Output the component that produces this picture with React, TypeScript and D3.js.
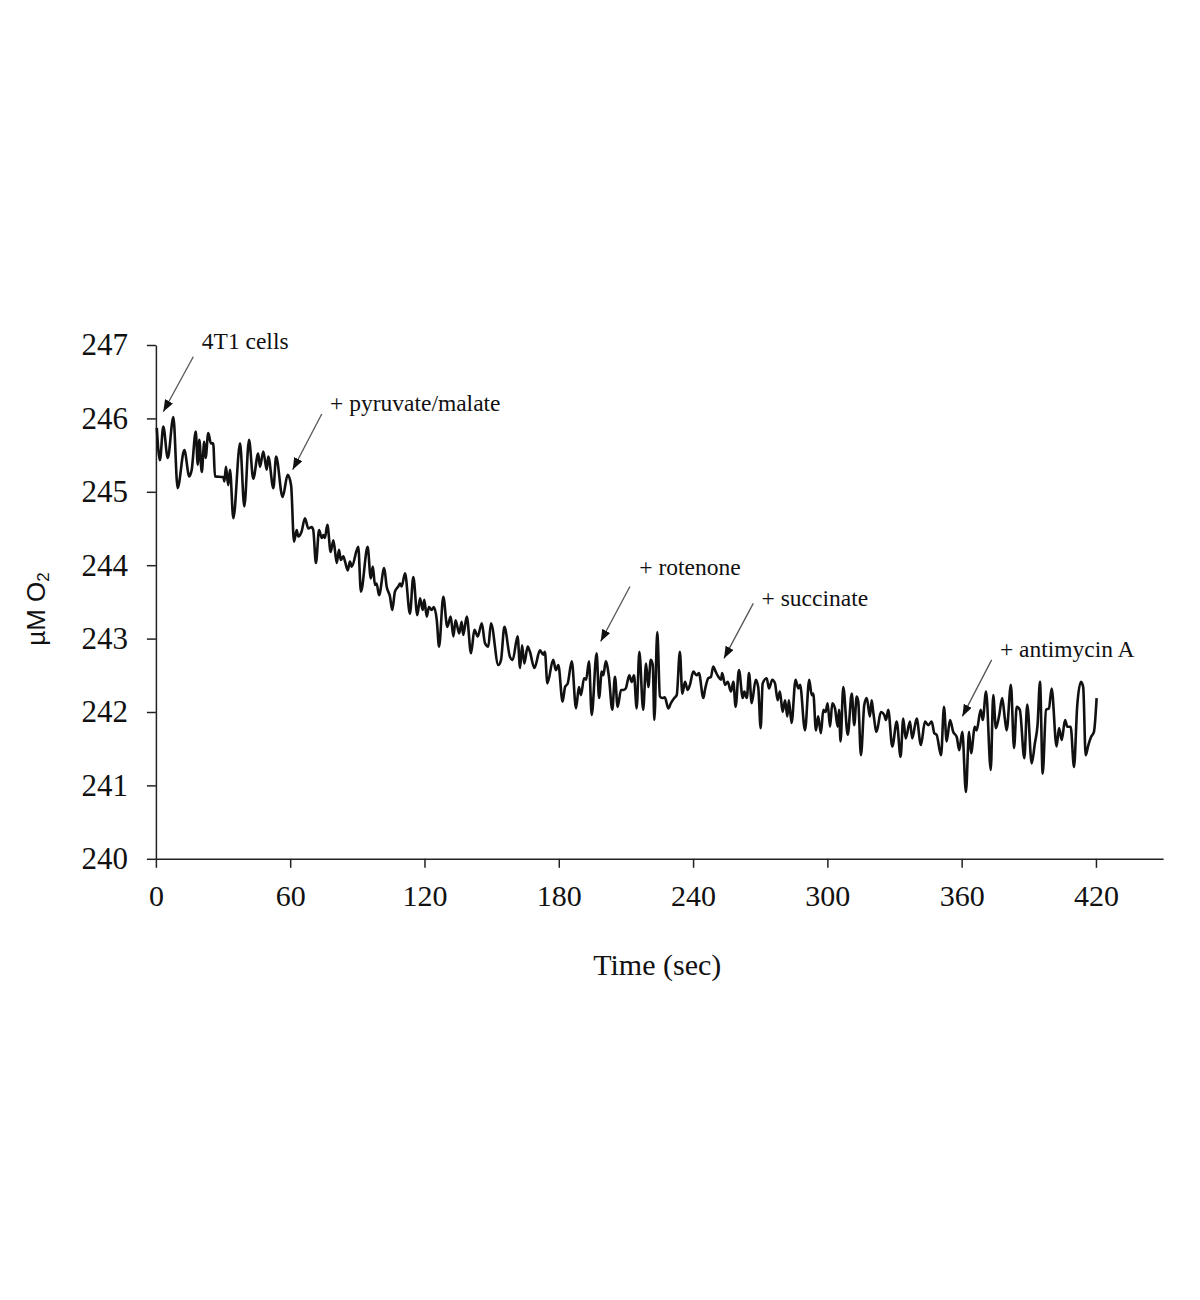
import { useEffect, useRef } from 'react';
import * as d3 from 'd3';

// Oxygen trace (seconds, µM O2)
const timeSec = [
  0.4, 1.8, 3.3, 5.3, 7.8, 9.7, 12.7, 14.9, 16, 17.8, 18.7, 19.4, 20.5, 21.6, 22.2, 23.4, 24.6, 25.6, 26.4, 30.1,
  30.6, 31.3, 32.3, 33.1, 34.6, 37.6, 39.5, 41.6, 43.5, 45.7, 46.5, 48, 49.5, 50.2, 52.5, 53.7, 56.6, 58.9, 60.4,
  61.7, 62.9, 63.6, 65.1, 66.6, 68.1, 69.6, 70.3, 71.5, 72.9, 74.1, 74.8, 75.5, 76.6, 78.1, 79.3, 80.8, 81.8, 82.6, 83.7,
  84.5, 85.7, 86.7, 87.5, 90.4, 91.6, 94.6, 96, 96.9, 97.9, 98.6, 99.7, 102, 103.1, 104.6, 105.6, 106.8, 108.3, 109.1, 109.8,
  111.3, 113.5, 115, 116.8, 118, 119.2, 119.9, 121, 122, 123.2, 124.2, 125.5,
  126.5, 128.4, 130.2, 131.7, 132.9, 133.9, 135.5, 136.6, 137.3, 138.9, 140.8, 142.3, 143.8, 145.6, 147, 148.5, 149.7, 153, 154.2, 155.7,
  158.2, 159.4, 161.6, 162.7, 163.6, 164.6, 166.1, 167.1, 169.1, 171.6, 173.1, 173.8, 174.9, 177.5, 178.7, 179.8, 181.7, 182.8, 184, 185.8,
  187.7, 189, 189.9, 191.3, 192.2,
  193.5, 194.7, 196.9, 198, 199.2, 199.9, 201, 202.4, 203.9, 205.1, 206.3, 207.8, 208.8, 209.9, 211.5, 212.6, 213.6, 214.8, 216, 217.7,
  219, 220, 221.1, 222, 222.7, 224, 225.2, 226.2, 227.4, 228.9, 230.1, 231.6, 232.7, 234.1, 235.2, 236.4, 237.6, 238.6, 240.1, 241.6,
  242.6, 244.6, 245.3, 246.8, 248, 249, 250.1, 251.3, 252.5, 253, 254.3, 255.5, 256.9, 258, 259, 260.5, 262.2, 262.9, 264, 265, 266.2,
  268, 269.1, 270.2, 271.1, 272.9, 273.9, 275.4, 276.6, 277.8, 278.8, 280, 281.1, 282.1, 282.8, 284, 285.8, 287, 287.8, 290, 291.9,
  293, 293.7, 294.9, 295.9, 297.1, 298.2, 299.2, 300.1, 301.2, 302.2, 303.4, 304.6, 305.2, 305.9, 307.1, 309.1, 310.9, 312, 313.1, 313.8,
  315, 316.5, 317.6, 319, 319.8, 320.5, 322, 323.9, 325.4, 326.2, 327.2, 329, 331, 332.7, 333.9, 335,
  336.9, 337.9, 339.9, 341.8, 343.6, 345.1, 346.6, 347.8, 348.8, 350.8, 352.1, 353.3, 354.8, 356.2, 357.8, 358.9, 360.3, 361.9, 363.3, 364.2,
  365.9, 366.7, 368.5, 369.4, 370.9, 373, 374.1, 375.3, 376.8, 378.1, 379.3, 380.1, 382, 383.4, 384.6, 386, 388, 389.3, 391.3, 392.7,
  393.9, 395, 396.2, 397.7, 399, 400.2, 402.4, 403.5, 404.7, 406.2, 407.2, 408.7, 410.2, 411.6, 413.3, 414.3, 415.4, 416.6, 417.8, 419.1,
  420.3,
];

const o2uM = [
  245.87, 245.43, 245.89, 245.46, 246.02, 245.05, 245.57, 245.21, 245.3, 245.82, 245.37, 245.71, 245.27, 245.68, 245.46, 245.8, 245.66, 245.66, 245.21, 245.2,
  245.14, 245.34, 245.09, 245.3, 244.64, 245.66, 244.8, 245.71, 245.18, 245.52, 245.34, 245.55, 245.3, 245.48, 245.05, 245.48, 244.93, 245.23, 245.09,
  244.32, 244.48, 244.39, 244.46, 244.64, 244.5, 244.52, 244.48, 244.03, 244.48, 244.37, 244.41, 244.37, 244.55, 244.18, 244.34, 244.03, 244.21, 244.07, 244.12,
  244.05, 243.93, 244.05, 243.98, 244.25, 243.64, 244.25, 243.82, 243.98, 243.73, 243.75, 243.59, 243.96, 243.71, 243.57, 243.39, 243.64, 243.71, 243.75, 243.71,
  243.89, 243.34, 243.84, 243.32, 243.55, 243.39, 243.53, 243.3, 243.43, 243.39, 243.43, 243.25,
  242.89, 243.57, 243.16, 243.3, 243.03, 243.25, 243.07, 243.23, 243.05, 243.3, 242.8, 243.12, 243.03, 243.21, 242.94, 242.89, 243.21, 242.64, 242.71, 243.16,
  242.75, 242.71, 243.03, 242.6, 242.91, 242.66, 242.89, 242.82, 242.6, 242.84, 242.78, 242.82, 242.39, 242.71, 242.57, 242.64, 242.14, 242.34, 242.39, 242.69,
  242.05, 242.34, 242.23, 242.46, 242.44,
  242.69, 241.96, 242.8, 242.19, 242.55, 242.5, 242.69, 242.48, 242.03, 242.48, 242.07, 242.3, 242.3, 242.32, 242.5, 242.41, 242.5, 242.05, 242.82, 242.03,
  242.66, 242.34, 242.71, 242.64, 241.89, 243.09, 242.21, 242.19, 242.2, 242.05, 242.12, 242.19, 242.23, 242.82, 242.25, 242.41, 242.3, 242.37, 242.55, 242.5,
  242.53, 242.19, 242.3, 242.46, 242.48, 242.62, 242.55, 242.48, 242.44, 242.53, 242.37, 242.41, 242.28, 242.41, 242.07, 242.57, 242.19, 242.28, 242.19, 242.53, 242.12,
  242.44, 242.34, 241.78, 242.39, 242.46, 242.32, 242.44, 242.39, 242.16, 242.28, 242.0, 242.16, 241.94, 242.16, 241.85, 242.44, 242.32, 242.37, 241.75, 242.44,
  242.23, 242.25, 241.75, 241.94, 241.71, 242.03, 242.0, 242.12, 241.8, 242.12, 242.05, 241.8, 242.03, 241.6, 242.34, 241.69, 242.25, 241.82, 242.21, 242.14,
  241.41, 242.1, 242.19, 241.94, 242.16, 242.0, 241.73, 242.0, 241.96, 241.89, 242.03, 241.53, 241.87, 241.39, 241.91, 241.64,
  241.87, 241.64, 241.91, 241.55, 241.87, 241.82, 241.87, 241.71, 241.69, 241.41, 242.07, 241.6, 241.89, 241.73, 241.66, 241.48, 241.73, 240.91, 241.73, 241.44,
  241.8, 241.75, 242.03, 241.89, 242.28, 241.21, 242.23, 241.78, 241.96, 242.19, 241.91, 241.75, 242.37, 241.51, 242.07, 242.03, 241.37, 242.1, 241.3, 241.57,
  241.82, 242.41, 241.16, 242.03, 242.05, 242.32, 241.53, 241.78, 241.62, 241.89, 241.8, 241.8, 241.25, 242.07, 242.41, 242.34, 241.41, 241.55, 241.66, 241.73,
  242.19,
];

const xTicks = [0, 60, 120, 180, 240, 300, 360, 420];
const yTicks = [240, 241, 242, 243, 244, 245, 246, 247];

// Additions marked on the trace: label, text anchor, arrow tail and arrow tip (data units)
const noteLabels = ['4T1 cells', '+ pyruvate/malate', '+ rotenone', '+ succinate', '+ antimycin A'];
const noteText = [[20.5, 246.94], [77.8, 246.1], [216, 243.87], [270.6, 243.44], [377.1, 242.75]];
const noteTail = [[16.7, 246.84], [74.1, 246.06], [211.8, 243.71], [266.9, 243.48], [373.4, 242.71]];
const noteTip = [[3.3, 246.09], [61.1, 245.3], [198.7, 242.96], [253.8, 242.73], [360.3, 241.94]];

const SERIF = '"Liberation Serif", "Times New Roman", serif';
const SANS = '"Liberation Sans", Arial, sans-serif';

export default function App() {
  const svgRef = useRef<SVGSVGElement>(null);

  useEffect(() => {
    if (!svgRef.current) return;
    const svg = d3.select(svgRef.current);
    svg.selectAll('*').remove();

    const x = d3.scaleLinear().domain([0, 450]).range([155.9, 1163.1]);
    const y = d3.scaleLinear().domain([240, 247]).range([858.8, 345]);

    // arrowhead
    svg
      .append('defs')
      .append('marker')
      .attr('id', 'head')
      .attr('markerUnits', 'userSpaceOnUse')
      .attr('markerWidth', 12)
      .attr('markerHeight', 9)
      .attr('refX', 12)
      .attr('refY', 4.5)
      .attr('orient', 'auto')
      .append('path')
      .attr('d', 'M0,0 L12,4.5 L0,9 Z')
      .attr('fill', '#111');

    // Axes
    const yAxisG = svg
      .append('g')
      .attr('transform', `translate(${x(0)},0)`)
      .call(d3.axisLeft(y).tickValues(yTicks).tickFormat(d3.format('d')).tickSize(9).tickSizeOuter(0).tickPadding(19));
    yAxisG.selectAll('.domain, .tick line').attr('stroke', '#222').attr('stroke-width', 1.5);
    yAxisG.selectAll('text').attr('fill', '#111').attr('font-family', SERIF).attr('font-size', 31);

    const xAxisG = svg
      .append('g')
      .attr('transform', `translate(0,${y(240)})`)
      .call(d3.axisBottom(x).tickValues(xTicks).tickFormat(d3.format('d')).tickSize(9).tickSizeOuter(0).tickPadding(17));
    xAxisG.selectAll('.domain, .tick line').attr('stroke', '#222').attr('stroke-width', 1.5);
    xAxisG.selectAll('text').attr('fill', '#111').attr('font-family', SERIF).attr('font-size', 30);

    // Axis labels
    svg
      .append('text')
      .attr('x', x(224))
      .attr('y', 975)
      .attr('text-anchor', 'middle')
      .attr('font-family', SERIF)
      .attr('font-size', 30)
      .attr('fill', '#111')
      .text('Time (sec)');

    const yLabel = svg
      .append('text')
      .attr('transform', 'translate(45,609) rotate(-90)')
      .attr('text-anchor', 'middle')
      .attr('font-family', SANS)
      .attr('font-size', 26)
      .attr('fill', '#111');
    yLabel.append('tspan').text('µM O');
    yLabel.append('tspan').attr('font-size', 17).attr('dy', 4).text('2');

    // Trace
    const points = timeSec.map((t, i) => [t, o2uM[i]] as [number, number]);
    const line = d3
      .line<[number, number]>()
      .x((d) => x(d[0]))
      .y((d) => y(d[1]))
      .curve(d3.curveMonotoneX);
    svg
      .append('path')
      .datum(points)
      .attr('d', line)
      .attr('fill', 'none')
      .attr('stroke', '#111')
      .attr('stroke-width', 2.6)
      .attr('stroke-linejoin', 'round');

    // Annotations
    noteLabels.forEach((label, i) => {
      svg
        .append('line')
        .attr('x1', x(noteTail[i][0]))
        .attr('y1', y(noteTail[i][1]))
        .attr('x2', x(noteTip[i][0]))
        .attr('y2', y(noteTip[i][1]))
        .attr('stroke', '#555')
        .attr('stroke-width', 1.3)
        .attr('marker-end', 'url(#head)');
      svg
        .append('text')
        .attr('x', x(noteText[i][0]))
        .attr('y', y(noteText[i][1]))
        .attr('font-family', SERIF)
        .attr('font-size', 23.5)
        .attr('fill', '#111')
        .text(label);
    });
  }, []);

  return (
    <svg
      ref={svgRef}
      width={1200}
      height={1300}
      style={{ position: 'absolute', left: 0, top: 0, background: '#fff' }}
    />
  );
}
